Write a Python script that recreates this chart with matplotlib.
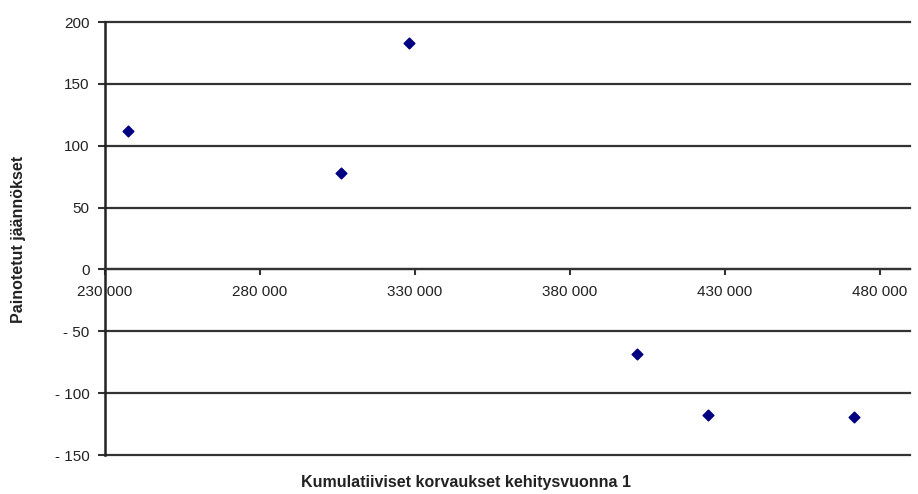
import matplotlib.pyplot as plt
from matplotlib.ticker import FuncFormatter

plt.rcParams['font.family'] = ['Liberation Sans', 'DejaVu Sans']
plt.rcParams['axes.unicode_minus'] = False

# data
x_vals = [237400, 306100, 328000, 401500, 424400, 471500]
y_vals = [112, 78, 183, -68, -118, -119]

x_ticks = [230000, 280000, 330000, 380000, 430000, 480000]
y_ticks = [-150, -100, -50, 0, 50, 100, 150, 200]

x_label = "Kumulatiiviset korvaukset kehitysvuonna 1"
y_label = "Painotetut jäännökset"

fig = plt.figure(figsize=(9.18, 4.94), dpi=100)
ax = fig.add_axes([0.1144, 0.0789, 0.877, 0.8765])

ax.scatter(x_vals, y_vals, marker='D', s=30, color='#000080', zorder=3)

ax.set_xlim(230000, 489700)
ax.set_ylim(-150, 200)
ax.set_xticks(x_ticks)
ax.set_yticks(y_ticks)

ax.xaxis.set_major_formatter(FuncFormatter(lambda v, p: f"{v:,.0f}".replace(",", " ")))
ax.yaxis.set_major_formatter(FuncFormatter(lambda v, p: f"- {abs(v):.0f}" if v < 0 else f"{v:.0f}"))

# gridlines like the excel chart
for yv in y_ticks:
    ax.axhline(yv, color='#333333', lw=1.6, zorder=1, clip_on=False)

for s in ['top', 'right']:
    ax.spines[s].set_visible(False)
ax.spines['bottom'].set_position(('data', 0))
ax.spines['bottom'].set_color('#333333')
ax.spines['bottom'].set_linewidth(1.6)
ax.spines['left'].set_color('#222222')
ax.spines['left'].set_linewidth(1.8)

ax.tick_params(axis='x', direction='out', length=4, width=1.5, color='#333333',
               labelsize=11, pad=7, labelcolor='#222222')
ax.tick_params(axis='y', direction='out', length=5, width=1.5, color='#333333',
               labelsize=11, pad=6, labelcolor='#222222')

fig.text(0.508, 0.024, x_label, ha='center', va='center', fontsize=11.5,
         fontweight='bold', color='#222222')
fig.text(0.02, 0.516, y_label, ha='center', va='center', rotation=90,
         fontsize=11.5, fontweight='bold', color='#222222')

fig.savefig('out.png', dpi=100)
